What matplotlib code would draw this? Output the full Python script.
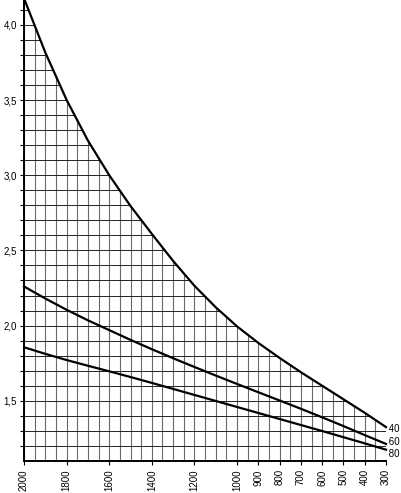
# Recreate chart: three falling curves (40, 60, 80) over a reversed x-axis 2000..300
import numpy as np
import matplotlib.pyplot as plt

plt.rcParams['font.family'] = ['Liberation Sans', 'DejaVu Sans']

# x values (reversed axis) and curves
x_vals = [2000, 1900, 1800, 1700, 1600, 1500, 1400, 1300, 1200,
          1100, 1000, 900, 800, 700, 600, 500, 400, 300]
curve_40 = [4.175, 3.815, 3.50, 3.23, 3.00, 2.795, 2.61, 2.43, 2.265,
            2.122, 1.995, 1.885, 1.785, 1.69, 1.60, 1.51, 1.42, 1.325]
curve_60 = [2.26, 2.18, 2.105, 2.035, 1.97, 1.905, 1.843, 1.783, 1.725,
            1.668, 1.612, 1.557, 1.502, 1.447, 1.39, 1.332, 1.272, 1.213]
curve_80 = [1.856, 1.812, 1.771, 1.733, 1.696, 1.658, 1.619, 1.579, 1.539,
            1.499, 1.459, 1.419, 1.379, 1.339, 1.299, 1.258, 1.217, 1.175]
curve_names = ['40', '60', '80']
label_y = [1.31, 1.228, 1.149]   # where the end labels sit

x_tick_vals = [2000, 1800, 1600, 1400, 1200, 1000, 900, 800, 700, 600, 500, 400, 300]
y_tick_vals = [1.5, 2.0, 2.5, 3.0, 3.5, 4.0]

fig = plt.figure(figsize=(4.01, 4.93), dpi=100)
ax = fig.add_axes([0.06, 0.065, 0.9027, 0.935])

ymin, ymax = 1.1, 4.165
ax.set_xlim(2000, 300)
ax.set_ylim(ymin, ymax)

# grid: vertical every 50, horizontal every 0.1
ax.vlines(np.arange(300, 2001, 50), ymin, ymax, colors='#6a6a6a', linewidth=0.8, zorder=1)
ax.hlines(np.arange(1.2, 4.15, 0.1), 300, 2000, colors='#222222', linewidth=0.7, zorder=1)

# white out the grid above the top curve
ax.fill_between(x_vals, curve_40, 5, color='white', zorder=2, linewidth=0)

for ys in [curve_40, curve_60, curve_80]:
    ax.plot(x_vals, ys, color='black', linewidth=1.6, zorder=3, clip_on=False,
            solid_joinstyle='round')

# labels at the right ends of the curves
for name, ly in zip(curve_names, label_y):
    ax.text(300, ly, ' ' + name, fontsize=7, va='center', ha='left')

ax.set_xticks(x_tick_vals)
ax.set_xticklabels([str(v) for v in x_tick_vals], rotation=90, fontsize=7)
ax.set_yticks(y_tick_vals)
ax.set_yticklabels([('%.1f' % v).replace('.', ',') for v in y_tick_vals], fontsize=7)
ax.set_yticks(np.arange(1.2, 4.15, 0.1), minor=True)
ax.tick_params(axis='y', which='both', length=3, width=0.8, pad=2)
ax.tick_params(axis='x', length=3, width=0.8, pad=3)

ax.spines['top'].set_visible(False)
ax.spines['right'].set_visible(False)
ax.spines['left'].set_linewidth(1.4)
ax.spines['bottom'].set_linewidth(1.4)

fig.savefig('out.png', dpi=100)
